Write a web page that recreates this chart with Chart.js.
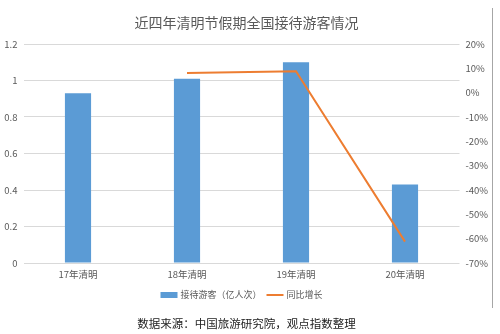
<!DOCTYPE html>
<html>
<head>
<meta charset="utf-8">
<script src="https://cdn.jsdelivr.net/npm/chart.js@4/dist/chart.umd.min.js"></script>
<style>
  html, body { margin: 0; padding: 0; background: #fff; }
  #wrap { position: relative; width: 500px; height: 334px; overflow: hidden; font-family: "Noto Sans CJK SC", sans-serif; }
  #c { position: absolute; left: 0; top: 0; }
  #title { position: absolute; left: 0; width: 493px; top: 12px; text-align: center; font-size: 14px; color: #595959; line-height: 20px; }
  #caption { position: absolute; left: 0; width: 493px; top: 314px; text-align: center; font-size: 11.5px; color: #222; line-height: 18px; }
  #frame { position: absolute; left: 492px; top: 8px; width: 1px; height: 300px; background: #a6a6a6; }
</style>
</head>
<body>
<div id="wrap">
  <canvas id="c" width="500" height="334"></canvas>
  <div id="title">近四年清明节假期全国接待游客情况</div>
  <div id="frame"></div>
  <div id="caption">数据来源：中国旅游研究院，观点指数整理</div>
</div>
<script>
const categories = ['17年清明', '18年清明', '19年清明', '20年清明'];
const visitors = [0.93, 1.01, 1.10, 0.43];           // 接待游客（亿人次）
const growth = [null, 8.1, 8.8, -61.2];             // 同比增长 (%)
const leftTicks = [0, 0.2, 0.4, 0.6, 0.8, 1, 1.2];
const rightTicks = [20, 10, 0, -10, -20, -30, -40, -50, -60, -70];
const seriesNames = ['接待游客（亿人次）', '同比增长'];

const FONT = '"Noto Sans CJK SC", sans-serif';
const GREY = '#595959';

const legendPlugin = {
  id: 'customLegend',
  afterDraw(chart) {
    const ctx = chart.ctx;
    ctx.save();
    ctx.font = '9px ' + FONT;
    ctx.textBaseline = 'middle';
    ctx.fillStyle = GREY;
    const y = 295;
    const items = chart.data.datasets.map(ds => ({ label: ds.label, type: ds.type, color: ds.type === 'line' ? ds.borderColor : ds.backgroundColor }));
    const sw = 17, gap = 3, itemGap = 5;
    let total = 0;
    items.forEach((it, i) => { total += sw + gap + ctx.measureText(it.label).width + (i < items.length - 1 ? itemGap : 0); });
    let x = (chart.chartArea.left + chart.chartArea.right) / 2 - total / 2;
    items.forEach(it => {
      if (it.type === 'line') {
        ctx.strokeStyle = it.color; ctx.lineWidth = 2;
        ctx.beginPath(); ctx.moveTo(x, y); ctx.lineTo(x + sw, y); ctx.stroke();
      } else {
        ctx.fillStyle = it.color; ctx.fillRect(x, y - 3, sw, 6);
      }
      x += sw + gap;
      ctx.fillStyle = GREY;
      ctx.fillText(it.label, x, y);
      x += ctx.measureText(it.label).width + itemGap;
    });
    ctx.restore();
  }
};

new Chart(document.getElementById('c'), {
  data: {
    labels: categories,
    datasets: [
      {
        type: 'bar', label: seriesNames[0], data: visitors, yAxisID: 'y',
        backgroundColor: '#5B9BD5', borderWidth: 0,
        categoryPercentage: 0.8, barPercentage: 0.3, order: 1
      },
      {
        type: 'line', label: seriesNames[1], data: growth, yAxisID: 'y1',
        borderColor: '#ED7D31', backgroundColor: '#ED7D31', borderWidth: 2,
        pointRadius: 0, tension: 0, spanGaps: false, order: 0
      }
    ]
  },
  options: {
    responsive: false,
    animation: false,
    events: [],
    layout: { padding: { top: 44, right: 7, left: 0, bottom: 0 } },
    plugins: { legend: { display: false }, tooltip: { enabled: false }, title: { display: false } },
    scales: {
      x: {
        offset: true,
        grid: { display: false, drawTicks: false },
        border: { display: false },
        ticks: { color: GREY, font: { family: FONT, size: 9.5 }, padding: 6, maxRotation: 0 },
        afterFit(s) { s.height = 71; }
      },
      y: {
        position: 'left', min: 0, max: 1.2,
        afterBuildTicks(s) { s.ticks = leftTicks.map(v => ({ value: v })); },
        grid: { color: '#d9d9d9', lineWidth: 1, drawTicks: false },
        border: { display: false },
        ticks: { color: GREY, font: { family: FONT, size: 9.5 }, padding: 6, callback: v => String(v) },
        afterFit(s) { s.width = 23.5; }
      },
      y1: {
        position: 'right', min: -70, max: 20,
        afterBuildTicks(s) { s.ticks = rightTicks.map(v => ({ value: v })); },
        grid: { display: false, drawTicks: false },
        border: { display: false },
        ticks: { color: GREY, font: { family: FONT, size: 9.5 }, padding: 6, callback: v => v + '%' },
        afterFit(s) { s.width = 33.5; }
      }
    }
  },
  plugins: [legendPlugin]
});
</script>
</body>
</html>
